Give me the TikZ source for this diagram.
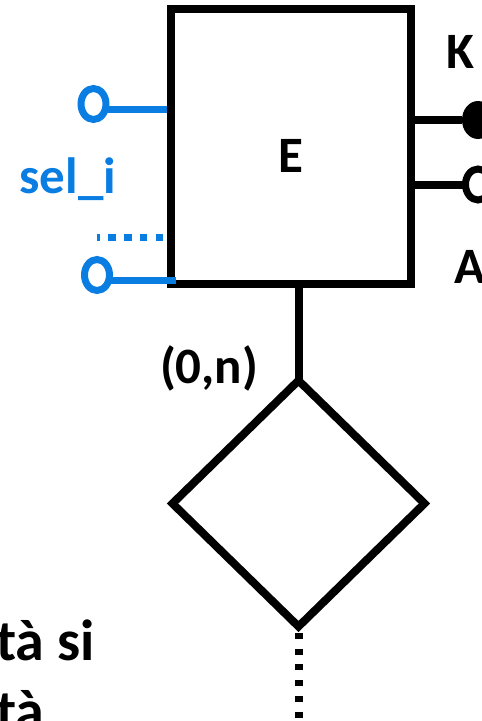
\documentclass[tikz,border=0pt]{standalone}
\usepackage{fontspec}
\setmainfont{Carlito}
\usetikzlibrary{shapes.geometric}
\definecolor{selblue}{HTML}{0A7DE3}
\definecolor{erline}{HTML}{000000}

\begin{document}
\begin{tikzpicture}[x=1pt,y=-1pt,font=\bfseries\fontsize{51}{61}\selectfont,
  inner sep=0pt,outer sep=0pt,
  erbox/.style={draw=erline,line width=8pt,minimum width=240pt,minimum height=275pt},
  rhomb/.style={diamond,draw=erline,line width=8pt,minimum width=252pt,minimum height=246pt},
  link/.style={erline,line width=8pt},
  sellink/.style={selblue,line width=7pt},
  attrring/.style={ellipse,line width=7pt,minimum width=25pt,minimum height=31pt},
  attrdot/.style={ellipse,fill=erline,minimum width=32pt,minimum height=38pt}]
% Entity E with its attributes, one relationship below; page cut at the edges.
\useasboundingbox (0,0) rectangle (482,721);
\node[erbox] (ent) at (291,146.5) {};
\node[anchor=base] (ent-name) at (291,172) {E};
\node[rhomb] (rel) at (298.5,503.5) {};
\draw[link] (ent.south -| rel.north) -- (rel.north);
\coordinate (rel-tail) at (298.5,721);
\draw[link,dash pattern=on 6pt off 9.7pt,dash phase=9.2pt] (rel.south) -- (rel-tail);
\node[anchor=base west] (card) at (160,383) {(0,n)};
% key and plain attribute on the right
\node[attrdot] (key) at (478,120) {};
\node[attrring,draw=erline] (attr) at (478,184.5) {};
\draw[link] (ent.east |- key) -- (key);
\draw[link] (ent.east |- attr) -- (attr.west);
\node[anchor=base west] (key-name) at (446,68) {K};
\node[anchor=base west] (attr-name) at (454,283) {A};
% selection attributes on the left
\node[attrring,draw=selblue] (sel-top) at (93.5,104) {};
\node[attrring,draw=selblue] (sel-bot) at (97,275) {};
\draw[sellink] ([yshift=-5.5pt]sel-top.east) coordinate (s1) -- ([xshift=-4pt]s1 -| ent.west);
\draw[sellink] ([yshift=-5pt]sel-bot.east) coordinate (s2) -- ([xshift=5pt]s2 -| ent.west);
\coordinate (sel-more) at (97,237);
\draw[sellink,dash pattern=on 7.5pt off 8.2pt,dash phase=7.7pt] (sel-more -| ent.west) -- (sel-more);
\node[anchor=base west,text=selblue] (sel-name) at (19.5,193) {sel\_i};
\node[anchor=base west,align=left,font=\bfseries\fontsize{58}{70}\selectfont] (note) at (-4,730) {tà si\\tà};
\end{tikzpicture}
\end{document}
